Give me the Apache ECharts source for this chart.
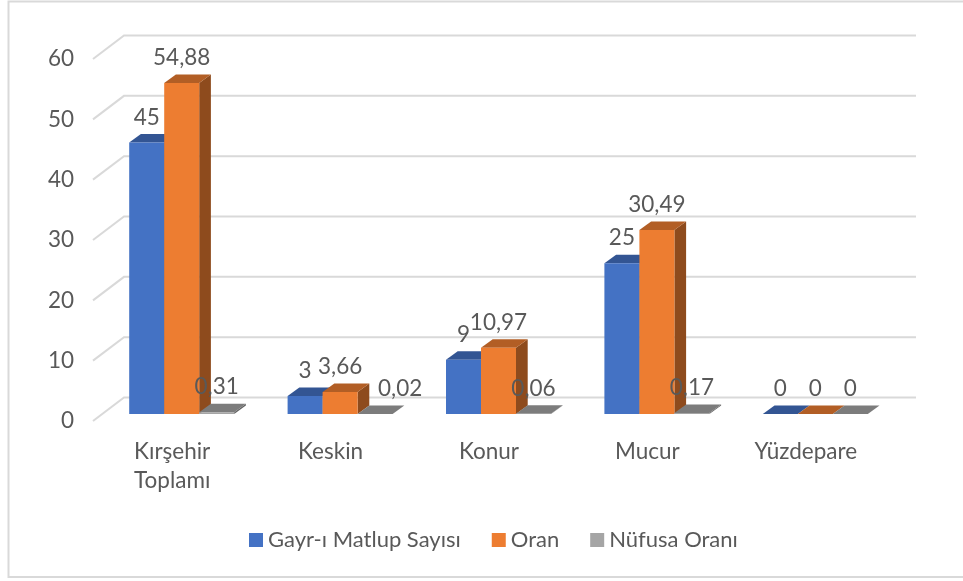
<!DOCTYPE html>
<html>
<head>
<meta charset="utf-8">
<style>html,body{margin:0;padding:0;background:#fff}#c{width:963px;height:581px}</style>
<script src="https://cdn.jsdelivr.net/npm/echarts@6/dist/echarts.min.js"></script>
</head>
<body>
<div id="c"></div>
<script>
const categories = ['Kırşehir\nToplamı', 'Keskin', 'Konur', 'Mucur', 'Yüzdepare'];
const gayri = [45, 3, 9, 25, 0];
const oran = [54.88, 3.66, 10.97, 30.49, 0];
const nufusa = [0.31, 0.02, 0.06, 0.17, 0];
const yTicks = [0, 10, 20, 30, 40, 50, 60];
const FONT = 'Lato';
const TEXT = '#595959';
const WALL = [31, -23.5];
const BAR_INSET = [9.5, -7];
const BAR_DEPTH = [11.7, -8.5];
const BAR_W = 35;
// the reference has one data label dragged sideways: series slot : category index
const LABEL_NUDGE = { '2:1': 25 };

function fmt(v) { return String(v).replace('.', ','); }

function barRenderer(slot, front, top, side) {
  return function (params, api) {
    const i = api.value(0), v = api.value(1);
    const p = api.coord([i, v]), b = api.coord([i, 0]);
    const x0 = p[0] + BAR_INSET[0] + (slot - 1.5) * BAR_W;
    const x1 = x0 + BAR_W;
    const yT = p[1] + BAR_INSET[1], yB = b[1] + BAR_INSET[1];
    const dx = BAR_DEPTH[0], dy = BAR_DEPTH[1];
    const nudge = LABEL_NUDGE[slot + ':' + i] || 0;
    return {
      type: 'group',
      children: [
        { type: 'polygon', shape: { points: [[x1, yT], [x1 + dx, yT + dy], [x1 + dx, yB + dy], [x1, yB]] }, style: { fill: side } },
        { type: 'polygon', shape: { points: [[x0, yT], [x0 + dx, yT + dy], [x1 + dx, yT + dy], [x1, yT]] }, style: { fill: top } },
        { type: 'rect', shape: { x: x0, y: yT, width: BAR_W, height: yB - yT }, style: { fill: front } },
        { type: 'text', z2: 100, style: { x: x0 + BAR_W / 2 + nudge, y: yT - 25, text: fmt(v), fill: TEXT, font: '22.5px ' + FONT, align: 'center', verticalAlign: 'middle' } }
      ]
    };
  };
}

function barSeries(name, data, slot, front, top, side, z) {
  return {
    name: name, type: 'custom', z: z,
    coordinateSystem: 'cartesian2d',
    itemStyle: { color: front },
    encode: { x: 0, y: 1 },
    data: data.map((v, i) => [i, v]),
    renderItem: barRenderer(slot, front, top, side)
  };
}

const wallSeries = {
  type: 'custom', z: 1, silent: true,
  coordinateSystem: 'cartesian2d',
  encode: { y: 0 },
  data: yTicks.map(t => [t]),
  renderItem: function (params, api) {
    const y = api.coord([0, api.value(0)])[1];
    const cs = params.coordSys;
    return {
      type: 'polyline',
      shape: { points: [[cs.x, y], [cs.x + WALL[0], y + WALL[1]], [cs.x + cs.width + WALL[0], y + WALL[1]]] },
      style: { stroke: '#d9d9d9', lineWidth: 2, fill: 'none' }
    };
  }
};

const chart = echarts.init(document.getElementById('c'), null, { renderer: 'canvas' });
chart.setOption({
  animation: false,
  backgroundColor: '#fff',
  textStyle: { fontFamily: FONT },
  graphic: [{
    type: 'polyline', silent: true,
    shape: { points: [[980, 1.5], [8.5, 1.5], [8.5, 577], [980, 577]] },
    style: { stroke: '#d9d9d9', lineWidth: 2, fill: 'none' }
  }],
  grid: { left: 93, top: 59, width: 792, height: 362 },
  legend: {
    left: 244, top: 524, icon: 'rect', itemWidth: 14, itemHeight: 14, itemGap: 31,
    textStyle: { color: TEXT, fontSize: 22, fontFamily: FONT },
    data: ['Gayr-ı Matlup Sayısı', 'Oran', 'Nüfusa Oranı']
  },
  xAxis: {
    type: 'category', data: categories,
    axisLine: { show: false }, axisTick: { show: false },
    axisLabel: { color: TEXT, fontSize: 22.5, fontFamily: FONT, margin: 16, lineHeight: 29, interval: 0 }
  },
  yAxis: {
    type: 'value', min: 0, max: 60, interval: 10,
    axisLine: { show: false }, axisTick: { show: false }, splitLine: { show: false },
    axisLabel: { color: TEXT, fontSize: 22.5, fontFamily: FONT, margin: 19 }
  },
  series: [
    wallSeries,
    barSeries('Gayr-ı Matlup Sayısı', gayri, 0, '#4472c4', '#335593', '#2a4478', 2),
    barSeries('Oran', oran, 1, '#ed7d31', '#b25e25', '#8e4b1d', 3),
    barSeries('Nüfusa Oranı', nufusa, 2, '#a5a5a5', '#7c7c7c', '#636363', 4)
  ]
});
</script>
</body>
</html>
